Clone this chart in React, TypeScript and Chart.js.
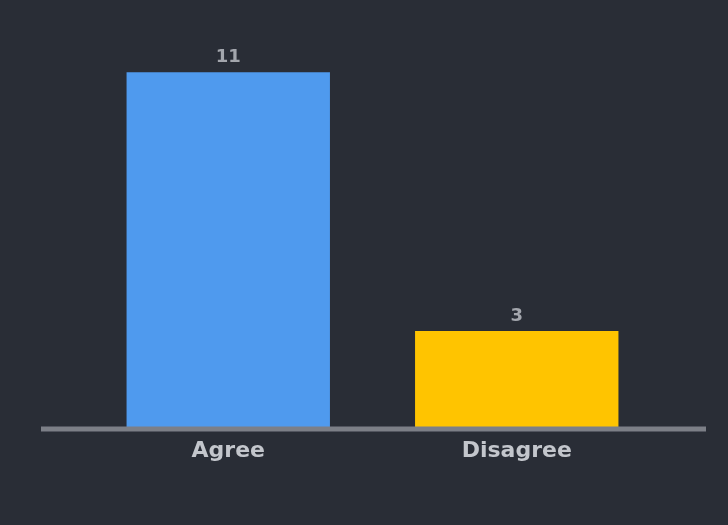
import React, { useEffect, useRef } from "react";
import { Chart, registerables } from "chart.js";

Chart.register(...registerables);

const categories: string[] = ["Agree", "Disagree"];
const values: number[] = [11, 3];
const barColors: string[] = ["#4f9aee", "#ffc400"];

const BG = "#292d36";

export default function App() {
  const ref = useRef<HTMLCanvasElement | null>(null);

  useEffect(() => {
    document.body.style.margin = "0";
    document.body.style.background = BG;
    const canvas = ref.current;
    if (!canvas) return;

    const bgPlugin = {
      id: "bg",
      beforeDraw(chart: any) {
        const { ctx, width, height } = chart;
        ctx.save();
        ctx.fillStyle = BG;
        ctx.fillRect(0, 0, width, height);
        ctx.restore();
      },
    };

    const baselinePlugin = {
      id: "baseline",
      afterDatasetsDraw(chart: any) {
        const { ctx, chartArea } = chart;
        const y = chart.scales.y.getPixelForValue(0);
        ctx.save();
        ctx.strokeStyle = "#7c7f87";
        ctx.lineWidth = 5;
        ctx.beginPath();
        ctx.moveTo(chartArea.left - 43, y + 1);
        ctx.lineTo(chartArea.right + 45, y + 1);
        ctx.stroke();
        ctx.restore();
      },
    };

    const valueLabelPlugin = {
      id: "valueLabels",
      afterDatasetsDraw(chart: any) {
        const { ctx } = chart;
        const meta = chart.getDatasetMeta(0);
        ctx.save();
        ctx.fillStyle = "#a3a6ad";
        ctx.font = "bold 18px 'DejaVu Sans', sans-serif";
        ctx.textAlign = "center";
        ctx.textBaseline = "bottom";
        meta.data.forEach((bar: any, i: number) => {
          ctx.fillText(String(values[i]), bar.x, bar.y - 6);
        });
        ctx.restore();
      },
    };

    const chart = new Chart(canvas, {
      type: "bar",
      data: {
        labels: categories,
        datasets: [
          {
            data: values,
            backgroundColor: barColors,
            borderWidth: 0,
            categoryPercentage: 1,
            barPercentage: 0.705,
          },
        ],
      },
      options: {
        animation: false,
        responsive: false,
        maintainAspectRatio: false,
        layout: { padding: { left: 84, right: 67, top: 40, bottom: 0 } },
        plugins: {
          legend: { display: false },
          tooltip: { enabled: false },
        },
        scales: {
          y: {
            display: false,
            min: 0,
            max: 12,
          },
          x: {
            grid: { display: false, drawTicks: false },
            border: { display: false },
            ticks: {
              color: "#c3c6cc",
              font: { size: 22, weight: "bold", family: "'DejaVu Sans', sans-serif" },
              padding: 10,
            },
            afterFit(scale: any) {
              scale.height = 97;
            },
          },
        },
      },
      plugins: [bgPlugin, baselinePlugin, valueLabelPlugin],
    });

    return () => chart.destroy();
  }, []);

  return (
    <div style={{ width: 728, height: 525 }}>
      <canvas ref={ref} width={728} height={525} style={{ display: "block" }} />
    </div>
  );
}
